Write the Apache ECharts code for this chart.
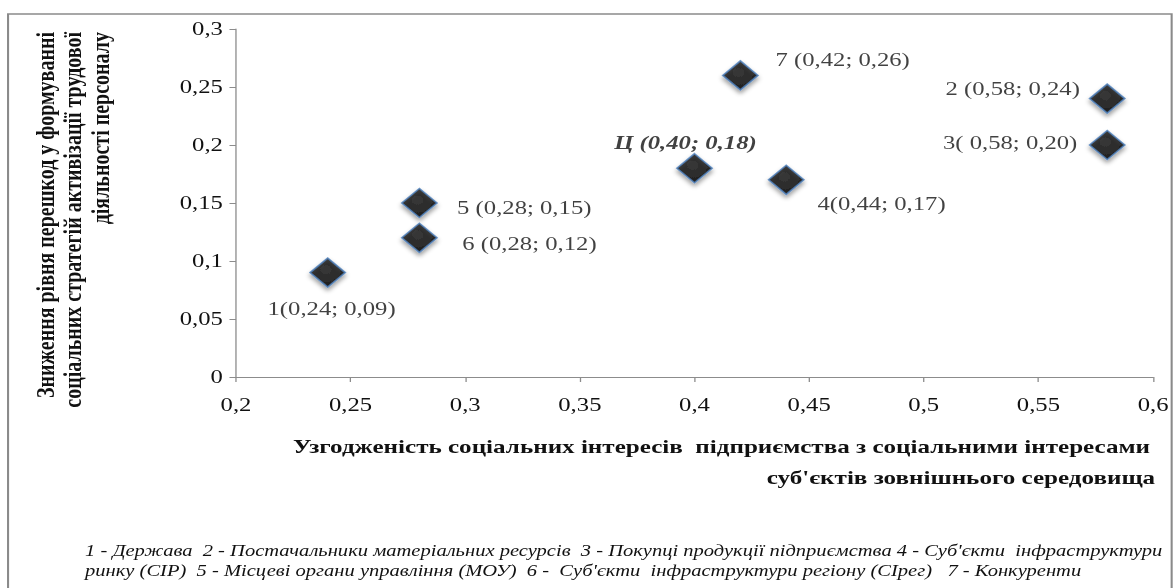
<!DOCTYPE html>
<html>
<head>
<meta charset="utf-8">
<script src="https://cdn.jsdelivr.net/npm/echarts@6/dist/echarts.min.js"></script>
<style>
  html, body { margin: 0; padding: 0; background: #fff; overflow: hidden; }
  #wrap { width: 1174px; height: 588px; overflow: hidden; }
  /* the chart is laid out narrow and stretched horizontally */
  #chart { width: 903px; height: 588px; transform: scaleX(1.3001); transform-origin: 0 0; }
</style>
</head>
<body>
<div id="wrap"><div id="chart"></div></div>
<script>
// Points: external environment subjects
const pointIds = ['1', '2', '3', '4', '5', '6', '7', 'Ц'];
const labelPrefixes = ['1(', '2 (', '3( ', '4(', '5 (', '6 (', '7 (', 'Ц ('];
const xValues = [0.24, 0.58, 0.58, 0.44, 0.28, 0.28, 0.42, 0.40];
const yValues = [0.09, 0.24, 0.20, 0.17, 0.15, 0.12, 0.26, 0.18];

// Axis ranges
const xMin = 0.2, xMax = 0.6, xStep = 0.05;
const yMin = 0, yMax = 0.3, yStep = 0.05;

// Titles
const yTitleLines = [
  'Зниження рівня перешкод у формуванні',
  'соціальних стратегій активізації трудової',
  'діяльності персоналу'
];
const xTitleLines = [
  'Узгодженість соціальних інтересів  підприємства з соціальними інтересами',
  'суб\'єктів зовнішнього середовища'
];
const noteLines = [
  '1 - Держава  2 - Постачальники матеріальних ресурсів  3 - Покупці продукції підприємства 4 - Суб\'єкти  інфраструктури',
  'ринку (СІР)  5 - Місцеві органи управління (МОУ)  6 -  Суб\'єкти  інфраструктури регіону (СІрег)   7 - Конкуренти'
];

// Label placement around each marker: [align, dx, dy]
const labelLayout = [
  ['center', 3, 36],
  ['right', -21, -10],
  ['right', -23, -2],
  ['left', 24, 24],
  ['left', 29, 5],
  ['left', 33, 6],
  ['left', 27, -16],
  ['center', -7, -26]
];

const SERIF = "'Liberation Serif', serif";
const comma = v => String(+v.toFixed(2)).replace('.', ',');
const pad2 = v => v.toFixed(2).replace('.', ',');

const data = pointIds.map((id, i) => ({
  name: id,
  value: [xValues[i], yValues[i]],
  label: {
    align: labelLayout[i][0],
    offset: [labelLayout[i][1], labelLayout[i][2]],
    fontStyle: id === 'Ц' ? 'italic' : 'normal',
    fontWeight: id === 'Ц' ? 'bold' : 'normal'
  }
}));

const chart = echarts.init(document.getElementById('chart'), null, { renderer: 'svg' });

const axisLine = { lineStyle: { color: '#8c8c8c', width: 1 } };

chart.setOption({
  animation: false,
  backgroundColor: '#fff',
  grid: { left: 181.5, right: 16.1, top: 29, bottom: 211, containLabel: false },
  xAxis: {
    type: 'value', min: xMin, max: xMax, interval: xStep,
    axisLine: axisLine,
    axisTick: { show: true, length: 5, lineStyle: { color: '#8c8c8c' } },
    splitLine: { show: false },
    axisLabel: {
      margin: 18, color: '#111', fontFamily: SERIF, fontSize: 19,
      formatter: v => comma(v)
    }
  },
  yAxis: {
    type: 'value', min: yMin, max: yMax, interval: yStep,
    axisLine: { show: true, lineStyle: { color: '#8c8c8c', width: 1 } },
    axisTick: { show: true, length: 5, lineStyle: { color: '#8c8c8c' } },
    splitLine: { show: false },
    axisLabel: {
      margin: 10, color: '#111', fontFamily: SERIF, fontSize: 19,
      formatter: v => comma(v)
    }
  },
  series: [{
    type: 'scatter',
    symbol: 'diamond',
    symbolSize: [27, 29],
    itemStyle: {
      color: new echarts.graphic.RadialGradient(0.45, 0.4, 0.6, [
        { offset: 0, color: '#1c1c1c' },
        { offset: 1, color: '#000' }
      ]),
      borderColor: '#4f81bd',
      borderWidth: 1.5,
      shadowColor: 'rgba(0,0,0,0.45)',
      shadowBlur: 4,
      shadowOffsetY: 3
    },
    label: {
      show: true,
      position: 'inside',
      verticalAlign: 'middle',
      color: '#111',
      fontFamily: SERIF,
      fontSize: 19,
      formatter: p => labelPrefixes[p.dataIndex] + pad2(p.value[0]) + '; ' + pad2(p.value[1]) + ')'
    },
    emphasis: { disabled: true },
    data: data
  }],
  graphic: [
    {
      type: 'rect', silent: true, z: -1,
      shape: { x: 6.2, y: 14, width: 895, height: 600 },
      style: { fill: 'none', stroke: '#8a8a8a', lineWidth: 1.6 }
    },
    ...yTitleLines.map((t, i) => ({
      type: 'text', silent: true,
      x: 34.6 + i * 21, y: 32, rotation: Math.PI / 2,
      style: {
        text: t, fill: '#111', font: "bold 20px 'Liberation Serif', serif",
        textAlign: 'right', textVerticalAlign: 'middle'
      }
    })),
    ...xTitleLines.map((t, i) => ({
      type: 'text', silent: true,
      x: [884.6, 888.5][i], y: [447, 478][i],
      style: {
        text: t, fill: '#111', font: "bold 19.3px 'Liberation Serif', serif",
        textAlign: 'right', textVerticalAlign: 'middle'
      }
    })),
    ...noteLines.map((t, i) => ({
      type: 'text', silent: true,
      x: 65.4, y: 551 + i * 20,
      style: {
        text: t, fill: '#111', font: "italic 15.8px 'Liberation Serif', serif",
        textAlign: 'left', textVerticalAlign: 'middle'
      }
    }))
  ]
});
</script>
</body>
</html>
